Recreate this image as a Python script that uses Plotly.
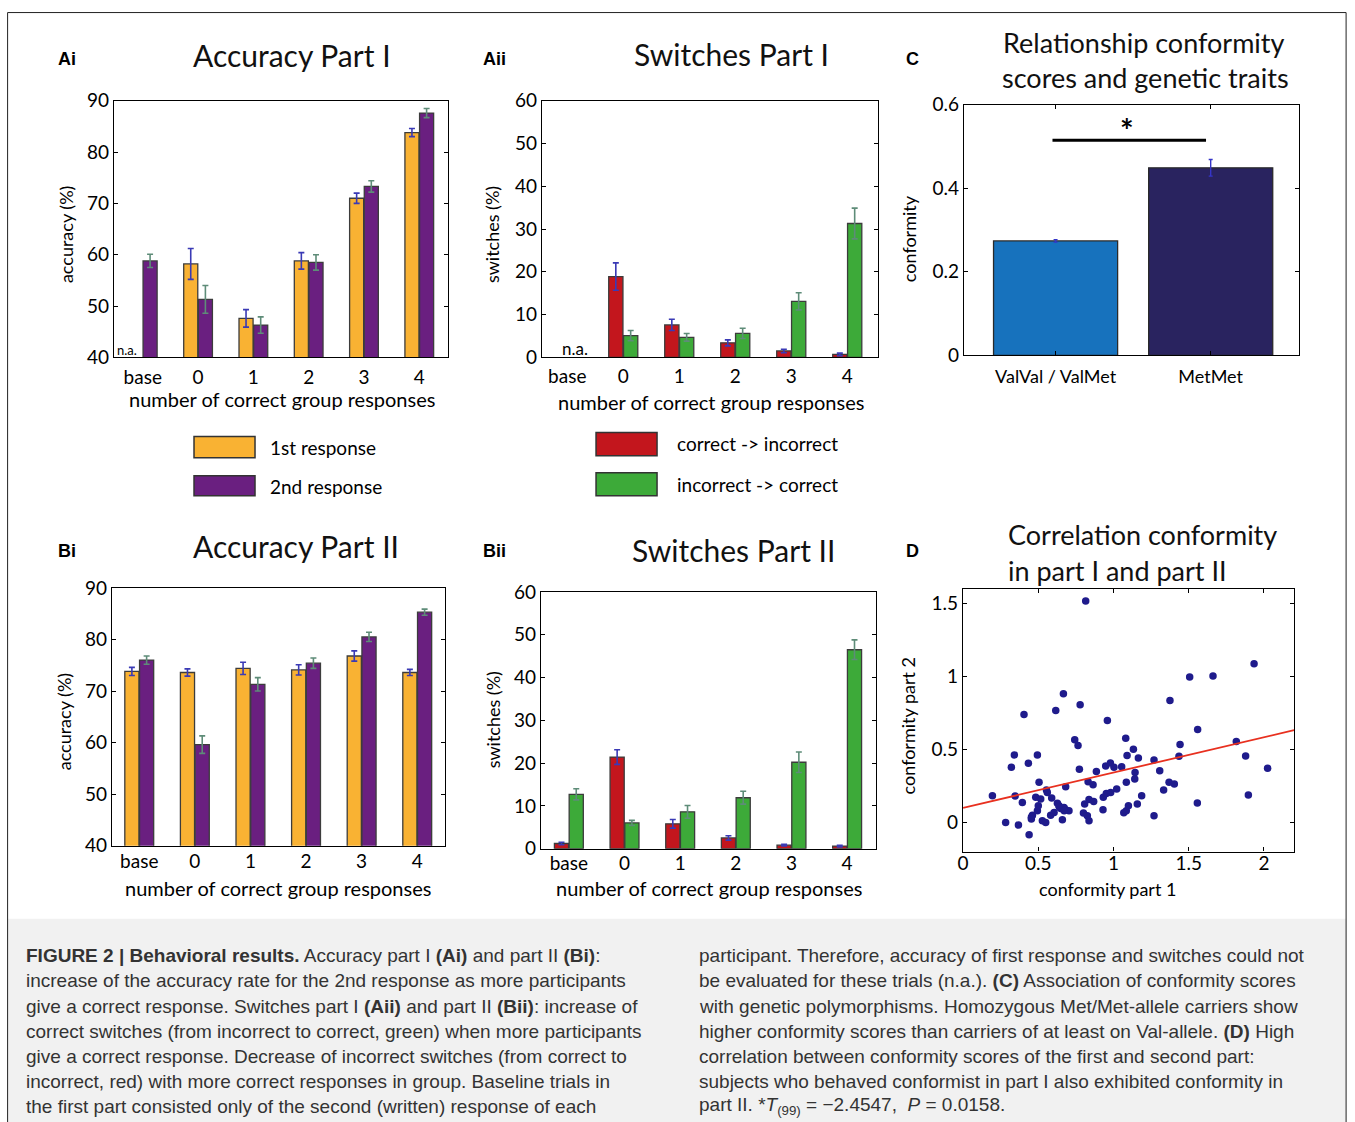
import plotly.graph_objects as go

W, H = 1355, 1122
# measured mapping from figure pixels to the photographed picture
SX, OX = 0.9955, 7.0
SY, OY = 0.977, 13.5


def px(x):
    return ((x - OX) / SX) / W


def py(y):
    return 1 - ((y - OY) / SY) / H


# ---------------- data ----------------
categories = ["base", "0", "1", "2", "3", "4"]
cat_pos = [0, 1, 2, 3, 4, 5]

acc1_first = [None, 58.2, 47.6, 58.8, 71.0, 83.8]
acc1_first_err = [0, 3.0, 1.7, 1.6, 1.0, 0.8]
acc1_second = [58.8, 51.3, 46.3, 58.5, 73.3, 87.6]
acc1_second_err = [1.3, 2.7, 1.6, 1.5, 1.1, 0.9]

sw1_c2i = [None, 18.9, 7.6, 3.4, 1.5, 0.7]
sw1_c2i_err = [0, 3.2, 1.3, 0.7, 0.4, 0.3]
sw1_i2c = [None, 5.1, 4.7, 5.6, 13.1, 31.3]
sw1_i2c_err = [0, 1.2, 0.9, 1.2, 2.0, 3.6]

acc2_first = [73.8, 73.6, 74.4, 74.1, 76.8, 73.6]
acc2_first_err = [0.8, 0.7, 1.2, 1.0, 1.0, 0.6]
acc2_second = [76.0, 59.6, 71.3, 75.4, 80.5, 85.3]
acc2_second_err = [0.8, 1.7, 1.3, 1.0, 0.9, 0.6]

sw2_c2i = [1.2, 21.4, 5.8, 2.5, 0.8, 0.6]
sw2_c2i_err = [0.3, 1.7, 1.0, 0.5, 0.2, 0.2]
sw2_i2c = [12.7, 6.0, 8.6, 11.9, 20.2, 46.5]
sw2_i2c_err = [1.3, 0.6, 1.5, 1.5, 2.4, 2.3]

genotypes = ["ValVal / ValMet", "MetMet"]
genotype_pos = [0, 1]
conformity_mean = [0.274, 0.449]
conformity_err = [0.003, 0.02]

conf_part1 = [0.195, 0.283, 0.321, 0.341, 0.346, 0.368, 0.394, 0.405, 0.434, 0.439,
              0.454, 0.461, 0.494, 0.483, 0.505, 0.494, 0.500, 0.516, 0.527, 0.549,
              0.554, 0.560, 0.589, 0.582, 0.605, 0.616, 0.627, 0.638, 0.649, 0.660,
              0.667, 0.671, 0.682, 0.682, 0.704, 0.742, 0.764, 0.773, 0.778, 0.800,
              0.808, 0.815, 0.826, 0.831, 0.837, 0.837, 0.864, 0.868, 0.886, 0.930,
              0.932, 0.948, 0.952, 0.959, 0.979, 0.981, 1.003, 1.021, 1.054, 1.068,
              1.081, 1.085, 1.090, 1.085, 1.099, 1.132, 1.143, 1.141, 1.165, 1.158,
              1.187, 1.269, 1.269, 1.307, 1.333, 1.369, 1.375, 1.404, 1.435, 1.442,
              1.506, 1.557, 1.559, 1.661, 1.816, 1.878, 1.896, 1.934, 2.024,
              0.454, 0.640, 0.672]
conf_part2 = [0.183, 0.000, 0.378, 0.463, 0.181, -0.018, 0.137, 0.740, 0.405, -0.085,
              0.023, 0.050, 0.463, 0.172, 0.275, 0.080, 0.115, 0.160, 0.011, 0.000,
              0.222, 0.206, 0.167, 0.050, 0.069, 0.767, 0.131, 0.115, 0.096, 0.018,
              0.882, 0.103, 0.245, 0.087, 0.080, 0.566, 0.527, 0.364, 0.806, 0.064,
              0.126, 1.518, 0.046, 0.279, 0.011, 0.158, 0.259, 0.144, 0.350, 0.087,
              0.172, 0.387, 0.199, 0.698, 0.408, 0.206, 0.378, 0.229, 0.382, 0.066,
              0.577, 0.275, 0.458, 0.080, 0.115, 0.501, 0.343, 0.298, 0.442, 0.126,
              0.183, 0.428, 0.046, 0.355, 0.222, 0.275, 0.836, 0.263, 0.453, 0.534,
              0.996, 0.133, 0.637, 1.003, 0.554, 0.456, 0.188, 1.088, 0.371,
              0.035, 0.105, 0.080]
fit_intercept = 0.10
fit_slope = 0.242

# ---------------- styles ----------------
ORANGE = "#F9B233"
PURPLE = "#6A1F80"
RED = "#C3161D"
GREEN = "#3DAA39"
ERR_BLUE = "#3A3AB5"
ERR_GRAY = "#5E8C78"
VALBLUE = "#1772BD"
METNAVY = "#29235F"
DOT = "#1F1B8C"
FITRED = "#E8301F"

FONT = "Lato"
CAP_FONT = "Liberation Sans"

fig = go.Figure()


def bars(x, y, err, color, ecolor, xa, ya, name):
    fig.add_trace(go.Bar(
        x=x, y=y, name=name, xaxis=xa, yaxis=ya, showlegend=False,
        marker=dict(color=color, line=dict(color="#3c3c3c", width=1.3)),
        error_y=dict(type="data", array=err, visible=True, color=ecolor,
                     thickness=1.6, width=3),
    ))


bars(cat_pos, acc1_first, acc1_first_err, ORANGE, ERR_BLUE, "x", "y", "1st response")
bars(cat_pos, acc1_second, acc1_second_err, PURPLE, ERR_GRAY, "x", "y", "2nd response")
bars(cat_pos, sw1_c2i, sw1_c2i_err, RED, ERR_BLUE, "x2", "y2", "correct -> incorrect")
bars(cat_pos, sw1_i2c, sw1_i2c_err, GREEN, ERR_GRAY, "x2", "y2", "incorrect -> correct")
bars(cat_pos, acc2_first, acc2_first_err, ORANGE, ERR_BLUE, "x4", "y4", "1st response")
bars(cat_pos, acc2_second, acc2_second_err, PURPLE, ERR_GRAY, "x4", "y4", "2nd response")
bars(cat_pos, sw2_c2i, sw2_c2i_err, RED, ERR_BLUE, "x5", "y5", "correct -> incorrect")
bars(cat_pos, sw2_i2c, sw2_i2c_err, GREEN, ERR_GRAY, "x5", "y5", "incorrect -> correct")

# C
fig.add_trace(go.Bar(
    x=genotype_pos, y=conformity_mean, xaxis="x3", yaxis="y3", width=0.8,
    showlegend=False,
    marker=dict(color=[VALBLUE, METNAVY], line=dict(color="#2a2a2a", width=1.3)),
    error_y=dict(type="data", array=conformity_err, visible=True, color="#3535C8",
                 thickness=1.4, width=2),
))

# D
fig.add_trace(go.Scatter(
    x=conf_part1, y=conf_part2, mode="markers", xaxis="x6", yaxis="y6",
    showlegend=False, marker=dict(color=DOT, size=7.5),
))
d_xrange = [0, 2.2]
fig.add_trace(go.Scatter(
    x=d_xrange, y=[fit_intercept + fit_slope * v for v in d_xrange],
    mode="lines", xaxis="x6", yaxis="y6", showlegend=False,
    line=dict(color=FITRED, width=1.8),
))

# ---------------- axes ----------------
tickfont = dict(family=FONT, size=19, color="black")


def axis_common():
    return dict(showline=True, linecolor="black", linewidth=1.4, mirror="ticks",
                showgrid=False, zeroline=False, tickfont=tickfont,
                ticks="inside", ticklen=4, tickcolor="black", tickwidth=1)


def xbar(dom, rng, anchor, standoff):
    d = axis_common()
    d.update(domain=[px(dom[0]), px(dom[1])], range=rng, anchor=anchor,
             tickvals=cat_pos, ticktext=categories, ticks="",
             ticklabelstandoff=standoff)
    return d


def ylin(dom, rng, tv, tt, anchor):
    d = axis_common()
    d.update(domain=[py(dom[1]), py(dom[0])], range=rng, anchor=anchor,
             tickvals=tv, ticktext=tt)
    return d


acc_ticks = [40, 50, 60, 70, 80, 90]
sw_ticks = [0, 10, 20, 30, 40, 50, 60]

layout = dict(
    width=W, height=H, margin=dict(l=0, r=0, t=0, b=0),
    paper_bgcolor="white", plot_bgcolor="white",
    barmode="group", bargap=0.47, bargroupgap=0.04,
    xaxis=xbar((115, 449), [-0.52, 5.52], "y", 3),
    yaxis=ylin((102, 358), [40, 90], acc_ticks, [str(t) for t in acc_ticks], "x"),
    xaxis2=xbar((543, 879), [-0.45, 5.55], "y2", 2),
    yaxis2=ylin((102, 358), [0, 60], sw_ticks, [str(t) for t in sw_ticks], "x2"),
    xaxis4=xbar((113, 446), [-0.49, 5.5], "y4", -2),
    yaxis4=ylin((588, 845), [40, 90], acc_ticks, [str(t) for t in acc_ticks], "x4"),
    xaxis5=xbar((542, 877), [-0.5, 5.52], "y5", -3),
    yaxis5=ylin((592, 848), [0, 60], sw_ticks, [str(t) for t in sw_ticks], "x5"),
)
c_x = axis_common()
c_x.update(domain=[px(965), px(1300)], range=[-0.59, 1.57], anchor="y3",
           tickvals=genotype_pos, ticktext=genotypes, ticklabelstandoff=5,
           tickfont=dict(family=FONT, size=18, color="black"))
layout["xaxis3"] = c_x
layout["yaxis3"] = ylin((106, 356), [0, 0.6], [0, 0.2, 0.4, 0.6],
                        ["0", "0.2", "0.4", "0.6"], "x3")
d_x = axis_common()
d_x.update(domain=[px(964), px(1295)], range=d_xrange, anchor="y6",
           tickvals=[0, 0.5, 1, 1.5, 2], ticktext=["0", "0.5", "1", "1.5", "2"],
           ticklabelstandoff=-6)
layout["xaxis6"] = d_x
layout["yaxis6"] = ylin((589, 851), [-0.2, 1.6], [0, 0.5, 1, 1.5],
                        ["0", "0.5", "1", "1.5"], "x6")
fig.update_layout(**layout)

# ---------------- annotations ----------------
ann = []


def note(x, y, text, size, family=FONT, color="black", xanchor="center",
         angle=0, yanchor="middle"):
    ann.append(dict(x=px(x), y=py(y), xref="paper", yref="paper", text=text,
                    showarrow=False, xanchor=xanchor, yanchor=yanchor,
                    textangle=angle, font=dict(family=family, size=size, color=color)))


# panel letters
for lx, ly, t in [(57, 60, "Ai"), (482, 60, "Aii"), (905, 60, "C"),
                  (57, 551, "Bi"), (482, 551, "Bii"), (905, 551, "D")]:
    note(lx, ly, "<b>%s</b>" % t, 18, family=CAP_FONT, xanchor="left")

# titles
note(293, 56, "Accuracy Part I", 30, color="#111")
note(732, 55, "Switches Part I", 30, color="#111")
note(1145, 44, "Relationship conformity", 27, color="#111")
note(1146, 79, "scores and genetic traits", 27, color="#111")
note(297, 546, "Accuracy Part II", 30, color="#111")
note(734, 550, "Switches Part II", 30, color="#111")
note(1007, 535, "Correlation conformity", 27, color="#111", xanchor="left")
note(1007, 571, "in part I and part II", 27, color="#111", xanchor="left")

# axis titles
note(67, 236, "accuracy (%)", 18, angle=-90)
note(493, 236, "switches (%)", 18, angle=-90)
note(910, 240, "conformity", 18, angle=-90)
note(65, 722, "accuracy (%)", 18, angle=-90)
note(494, 720, "switches (%)", 18, angle=-90)
note(909, 726, "conformity part 2", 18, angle=-90)
note(283, 400, "number of correct group responses", 20)
note(712, 403, "number of correct group responses", 20)
note(279, 887, "number of correct group responses", 20)
note(710, 887, "number of correct group responses", 20)
note(1108, 888, "conformity part 1", 18)

# n.a. labels
note(128, 351, "n.a.", 13)
note(576, 349, "n.a.", 17)

# significance
note(1128, 132, "<b>*</b>", 32)

# legends
note(269, 448, "1st response", 19, xanchor="left")
note(269, 487, "2nd response", 19, xanchor="left")
note(676, 444, "correct -> incorrect", 19, xanchor="left")
note(676, 485, "incorrect -> correct", 19, xanchor="left")

# caption
cap_left = [
    "<b>FIGURE 2 | Behavioral results.</b> Accuracy part I <b>(Ai)</b> and part II <b>(Bi)</b>:",
    "increase of the accuracy rate for the 2nd response as more participants",
    "give a correct response. Switches part I <b>(Aii)</b> and part II <b>(Bii)</b>: increase of",
    "correct switches (from incorrect to correct, green) when more participants",
    "give a correct response. Decrease of incorrect switches (from correct to",
    "incorrect, red) with more correct responses in group. Baseline trials in",
    "the first part consisted only of the second (written) response of each",
]
cap_right = [
    "participant. Therefore, accuracy of first response and switches could not",
    "be evaluated for these trials (n.a.). <b>(C)</b> Association of conformity scores",
    "with genetic polymorphisms. Homozygous Met/Met-allele carriers show",
    "higher conformity scores than carriers of at least on Val-allele. <b>(D)</b> High",
    "correlation between conformity scores of the first and second part:",
    "subjects who behaved conformist in part I also exhibited conformity in",
    "part II. *<i>T</i><sub>(99)</sub> = \u22122.4547,  <i>P</i> = 0.0158.",
]
for i, line in enumerate(cap_left):
    note(25, 955 + 25 * i, line, 19, family=CAP_FONT, color="#333", xanchor="left")
for i, line in enumerate(cap_right):
    note(698, 955 + 25 * i, line, 19, family=CAP_FONT, color="#333", xanchor="left")

fig.update_layout(annotations=ann)

# ---------------- shapes ----------------
shapes = []


def rect(x0, y0, x1, y1, fill, line="#333", lw=1.5):
    shapes.append(dict(type="rect", xref="paper", yref="paper",
                       x0=px(x0), x1=px(x1), y0=py(y1), y1=py(y0),
                       fillcolor=fill, line=dict(color=line, width=lw), layer="above"))


# caption background and frame
shapes.append(dict(type="rect", xref="paper", yref="paper", x0=px(8.5), x1=px(1347),
                   y0=-0.02, y1=py(918), fillcolor="#F1F1F1", line=dict(width=0),
                   layer="below"))
shapes.append(dict(type="rect", xref="paper", yref="paper", x0=px(8.6), x1=px(1347),
                   y0=-0.02, y1=0.9995, fillcolor="rgba(0,0,0,0)",
                   line=dict(color="#222", width=1), layer="below"))

rect(195, 437, 256, 458, ORANGE)
rect(195, 476, 256, 496, PURPLE)
rect(597, 433, 658, 456, RED)
rect(597, 473, 658, 496, GREEN)

# significance bar in C
shapes.append(dict(type="line", xref="x3", yref="y3", x0=-0.02, x1=0.97,
                   y0=0.515, y1=0.515, line=dict(color="black", width=3)))

fig.update_layout(shapes=shapes)

fig.write_html("out.html", config={"displayModeBar": False},
               post_script="document.body.style.margin='0';")
